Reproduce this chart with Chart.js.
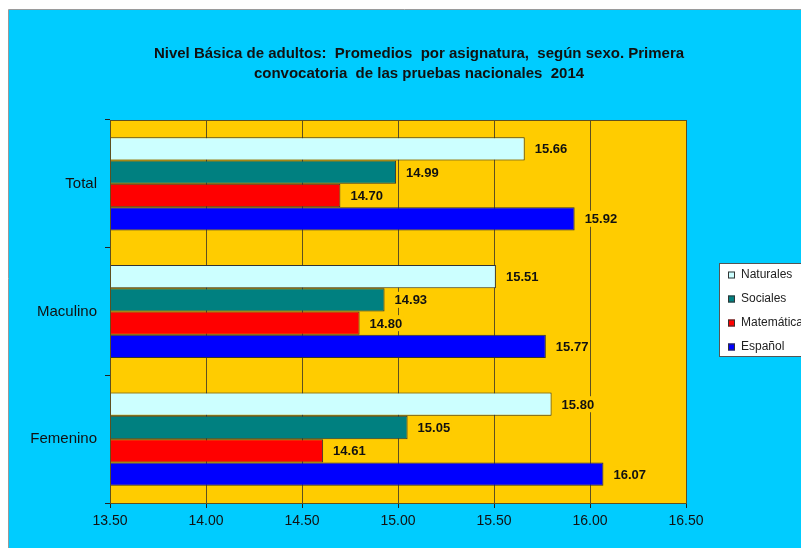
<!DOCTYPE html>
<html>
<head>
<meta charset="utf-8">
<script src="https://cdn.jsdelivr.net/npm/chart.js@4/dist/chart.umd.min.js"></script>
<style>
  html, body { margin: 0; padding: 0; background: #ffffff; }
  canvas { display: block; }
</style>
</head>
<body>
<canvas id="chart" width="801" height="548"></canvas>
<script>
// Grupos (eje vertical) y asignaturas
const categories = ['Total', 'Maculino', 'Femenino'];
const subjects = ['Naturales', 'Sociales', 'Matemática', 'Español'];

// Promedios por asignatura, en el orden de las categorías
const naturales  = [15.66, 15.51, 15.80];
const sociales   = [14.99, 14.93, 15.05];
const matematica = [14.70, 14.80, 14.61];
const espanol    = [15.92, 15.77, 16.07];

const titleLines = [
  'Nivel Básica de adultos:  Promedios  por asignatura,  según sexo. Primera',
  'convocatoria  de las pruebas nacionales  2014'
];
const xTicks = [13.5, 14.0, 14.5, 15.0, 15.5, 16.0, 16.5];

const colors = ['#CCFFFF', '#008080', '#FF0000', '#0000FF'];
const FONT = '"Liberation Sans", Arial, sans-serif';

// Fondo de la figura, área de trazado, título y etiquetas de valor
const decor = {
  id: 'decor',
  beforeDraw(chart) {
    const { ctx, chartArea: a } = chart;
    ctx.save();
    ctx.fillStyle = '#ffffff';
    ctx.fillRect(0, 0, chart.width, chart.height);
    ctx.fillStyle = '#00CCFF';
    ctx.fillRect(9, 10, chart.width - 9, chart.height - 10);
    ctx.strokeStyle = '#9a9a9a';
    ctx.lineWidth = 1;
    ctx.beginPath();
    ctx.moveTo(8.5, chart.height);
    ctx.lineTo(8.5, 9.5);
    ctx.lineTo(chart.width, 9.5);
    ctx.stroke();
    ctx.fillStyle = '#FFCC00';
    ctx.fillRect(a.left, a.top, a.right - a.left, a.bottom - a.top);

    ctx.fillStyle = '#111111';
    ctx.font = 'bold 15px ' + FONT;
    ctx.textAlign = 'center';
    ctx.textBaseline = 'middle';
    ctx.fillText(titleLines[0], 419, 54);
    ctx.fillText(titleLines[1], 419, 74);
    ctx.restore();
  },
  afterDatasetsDraw(chart) {
    const { ctx, chartArea: a } = chart;
    ctx.save();
    ctx.strokeStyle = '#5e5020';
    ctx.lineWidth = 1;
    ctx.strokeRect(Math.round(a.left) + 0.5, Math.round(a.top) + 0.5,
                   Math.round(a.right - a.left), Math.round(a.bottom - a.top));
    ctx.font = 'bold 13px ' + FONT;
    ctx.textAlign = 'left';
    ctx.textBaseline = 'middle';
    chart.data.datasets.forEach((ds, i) => {
      chart.getDatasetMeta(i).data.forEach((el, j) => {
        const txt = ds.data[j].toFixed(2);
        const x = el.x + 10;
        const w = ctx.measureText(txt).width;
        ctx.fillStyle = '#FFCC00';
        ctx.fillRect(x - 1, el.y - 8, w + 2, 16);
        ctx.fillStyle = '#111111';
        ctx.fillText(txt, x, el.y + 1);
      });
    });
    ctx.restore();
  },
  afterDraw(chart) {
    const { ctx } = chart;
    ctx.save();
    const bx = 719, by = 263;
    ctx.fillStyle = '#ffffff';
    ctx.fillRect(bx, by, chart.width - bx + 5, 94);
    ctx.strokeStyle = '#555555';
    ctx.lineWidth = 1;
    ctx.strokeRect(bx + 0.5, by + 0.5, chart.width - bx + 5, 93);
    ctx.font = '12px ' + FONT;
    ctx.textAlign = 'left';
    ctx.textBaseline = 'middle';
    chart.data.datasets.forEach((ds, i) => {
      const y = by + 12 + i * 24;
      ctx.fillStyle = ds.backgroundColor;
      ctx.fillRect(728, y - 3.5, 7, 7);
      ctx.strokeStyle = '#333333';
      ctx.strokeRect(728.5, y - 3, 6, 6);
      ctx.fillStyle = '#222222';
      ctx.fillText(ds.label, 741, y);
    });
    ctx.restore();
  }
};

const series = [naturales, sociales, matematica, espanol];

new Chart(document.getElementById('chart'), {
  type: 'bar',
  data: {
    labels: categories,
    datasets: subjects.map((name, i) => ({
      label: name,
      data: series[i],
      backgroundColor: colors[i],
      borderColor: '#333333',
      borderWidth: 1,
      borderSkipped: 'start',
      categoryPercentage: 0.73,
      barPercentage: 1.0
    }))
  },
  options: {
    indexAxis: 'y',
    responsive: false,
    animation: false,
    devicePixelRatio: 1,
    layout: { padding: { left: 8, top: 120, right: 115, bottom: 0 } },
    plugins: {
      legend: { display: false },
      title: { display: false },
      tooltip: { enabled: false }
    },
    scales: {
      x: {
        min: 13.5,
        max: 16.5,
        afterBuildTicks(scale) { scale.ticks = xTicks.map(v => ({ value: v })); },
        afterFit(scale) { scale.height = 45; },
        grid: {
          color: '#5e5020',
          lineWidth: 1,
          drawTicks: true,
          tickLength: 5,
          tickColor: '#222222'
        },
        border: { display: true, color: '#5e5020' },
        ticks: {
          callback: v => Number(v).toFixed(2),
          font: { family: FONT, size: 14 },
          color: '#111111',
          padding: 5,
          maxRotation: 0
        }
      },
      y: {
        afterFit(scale) { scale.width = 102; },
        grid: {
          offset: true,
          drawOnChartArea: false,
          drawTicks: true,
          tickLength: 5,
          tickColor: '#222222'
        },
        border: { display: true, color: '#5e5020' },
        ticks: {
          font: { family: FONT, size: 15 },
          color: '#111111',
          padding: 8
        }
      }
    }
  },
  plugins: [decor]
});
</script>
</body>
</html>
